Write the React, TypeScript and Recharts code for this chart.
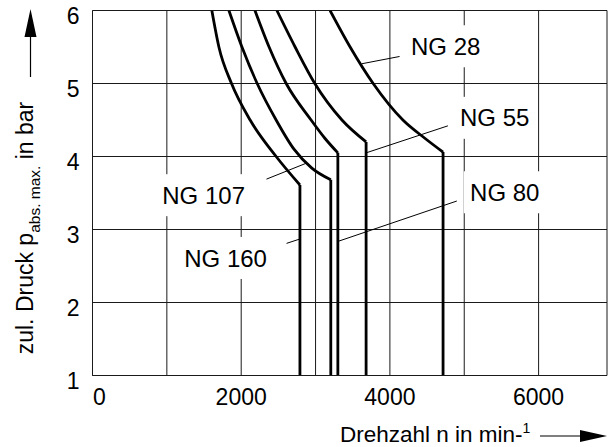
import React from 'react';
import {
  LineChart,
  Line,
  XAxis,
  YAxis,
  CartesianGrid,
  ReferenceLine,
  ReferenceDot,
  Customized,
} from 'recharts';

const FONT = '"Liberation Sans", Arial, Helvetica, sans-serif';
const INK = '#000';
const GRID = '#1a1a1a';

const X_TICKS = [0, 1000, 2000, 3000, 4000, 5000, 6000];
const X_LABELED = [0, 2000, 4000, 6000];
const Y_TICKS = [1, 2, 3, 4, 5, 6];

// n = speed (min^-1), p = max. abs. pressure (bar); last point is the foot of the vertical
const NG28 = [
  { n: 3195, p: 6 }, { n: 3465, p: 5.5 }, { n: 3775, p: 5.0 }, { n: 4175, p: 4.5 },
  { n: 4470, p: 4.25 }, { n: 4715, p: 4.06 }, { n: 4715, p: 1 },
];
const NG55 = [
  { n: 2480, p: 6 }, { n: 2725, p: 5.5 }, { n: 2990, p: 5.0 }, { n: 3355, p: 4.5 },
  { n: 3680, p: 4.2 }, { n: 3680, p: 1 },
];
const NG80 = [
  { n: 2185, p: 6 }, { n: 2375, p: 5.5 }, { n: 2605, p: 5.0 }, { n: 2940, p: 4.5 },
  { n: 3125, p: 4.25 }, { n: 3300, p: 4.05 }, { n: 3300, p: 1 },
];
const NG107 = [
  { n: 1835, p: 6 }, { n: 2010, p: 5.5 }, { n: 2215, p: 5.0 }, { n: 2470, p: 4.5 },
  { n: 2710, p: 4.1 }, { n: 2950, p: 3.84 }, { n: 3205, p: 3.68 }, { n: 3205, p: 1 },
];
const NG160 = [
  { n: 1605, p: 6 }, { n: 1700, p: 5.5 }, { n: 1870, p: 5.0 }, { n: 2120, p: 4.5 },
  { n: 2470, p: 4.0 }, { n: 2790, p: 3.61 }, { n: 2790, p: 1 },
];

const SERIES = [NG28, NG55, NG80, NG107, NG160];

// label text, where it sits, and its leader line
const NOTES = [
  { name: 'NG 28', n: 4750, p: 5.51, from: [4130, 5.37], to: [3620, 5.27] },
  { name: 'NG 55', n: 5410, p: 4.53, from: [4780, 4.42], to: [3680, 4.05] },
  { name: 'NG 80', n: 5545, p: 3.51, from: [4900, 3.39], to: [3310, 2.84] },
  { name: 'NG 107', n: 1495, p: 3.47, from: [2340, 3.69], to: [2880, 3.91] },
  { name: 'NG 160', n: 1790, p: 2.61, from: [2610, 2.81], to: [2790, 2.87] },
];

function XTick({ x, y, payload }: any) {
  if (!X_LABELED.includes(payload.value)) return <g />;
  return (
    <text x={x + (payload.value === 0 ? 7 : 0)} y={y + 29} textAnchor="middle" fontSize={23} fill={INK} fontFamily={FONT}>
      {payload.value}
    </text>
  );
}

function YTick({ x, y, payload }: any) {
  return (
    <text x={x} y={y + 13.5} textAnchor="end" fontSize={23} fill={INK} fontFamily={FONT}>
      {payload.value}
    </text>
  );
}

function noteShape(name: string) {
  return ({ cx, cy }: any) => {
    const w = name.length * 14 + 12;
    return (
      <g>
        <rect x={cx - w / 2} y={cy - 21} width={w} height={42} fill="#fff" />
        <text x={cx} y={cy} dy="0.36em" textAnchor="middle" fontSize={24} fill={INK} fontFamily={FONT}>
          {name}
        </text>
      </g>
    );
  };
}

function AxisTitles() {
  return (
    <g fontFamily={FONT} fill={INK}>
      <text transform="translate(33,228) rotate(-90)" textAnchor="middle" fontSize={23}>
        zul. Druck p
        <tspan fontSize={15.5} dy={7}>abs. max.</tspan>
        <tspan dy={-7}> in bar</tspan>
      </text>
      <line x1={30.5} y1={77} x2={30.5} y2={32} stroke={INK} strokeWidth={1.2} />
      <polygon points="30.5,9 24.5,37 36.5,37" fill={INK} />

      <text x={340} y={442} fontSize={22.5}>
        Drehzahl n in min-
        <tspan fontSize={14} dy={-9}>1</tspan>
      </text>
      <line x1={540} y1={436} x2={584} y2={436} stroke={INK} strokeWidth={1.2} />
      <polygon points="607,436 580,430 580,442" fill={INK} />
    </g>
  );
}

export default function App() {
  return (
    <div style={{ width: 608, height: 447, background: '#fff' }}>
      <style>{'body{margin:0}'}</style>
      <LineChart
        width={608}
        height={447}
        margin={{ top: 10.5, right: 1, left: 0, bottom: 0 }}
        style={{ fontFamily: FONT }}
      >
        <CartesianGrid stroke={GRID} strokeWidth={1} />
        <XAxis
          type="number"
          dataKey="n"
          domain={[0, 6920]}
          ticks={X_TICKS}
          allowDataOverflow
          height={71.5}
          tickSize={0}
          tickMargin={0}
          tickLine={false}
          axisLine={{ stroke: GRID }}
          tick={<XTick />}
        />
        <YAxis
          type="number"
          dataKey="p"
          domain={[1, 6]}
          ticks={Y_TICKS}
          allowDataOverflow
          width={92.5}
          tickSize={0}
          tickMargin={13}
          tickLine={false}
          axisLine={{ stroke: GRID }}
          tick={<YTick />}
        />

        {NOTES.map((a) => (
          <ReferenceDot key={a.name} x={a.n} y={a.p} r={0} shape={noteShape(a.name)} />
        ))}
        {NOTES.map((a) => (
          <ReferenceLine
            key={a.name + '-lead'}
            segment={[{ x: a.from[0], y: a.from[1] }, { x: a.to[0], y: a.to[1] }]}
            stroke={INK}
            strokeWidth={1}
          />
        ))}

        {SERIES.map((pts, i) => (
          <Line
            key={'c' + i}
            data={pts.slice(0, -1)}
            dataKey="p"
            type="monotone"
            stroke={INK}
            strokeWidth={2.8}
            dot={false}
            activeDot={false}
            isAnimationActive={false}
          />
        ))}
        {SERIES.map((pts, i) => (
          <Line
            key={'s' + i}
            data={pts.slice(-2)}
            dataKey="p"
            type="linear"
            stroke={INK}
            strokeWidth={2.8}
            dot={false}
            activeDot={false}
            isAnimationActive={false}
          />
        ))}

        <Customized component={AxisTitles} />
      </LineChart>
    </div>
  );
}
